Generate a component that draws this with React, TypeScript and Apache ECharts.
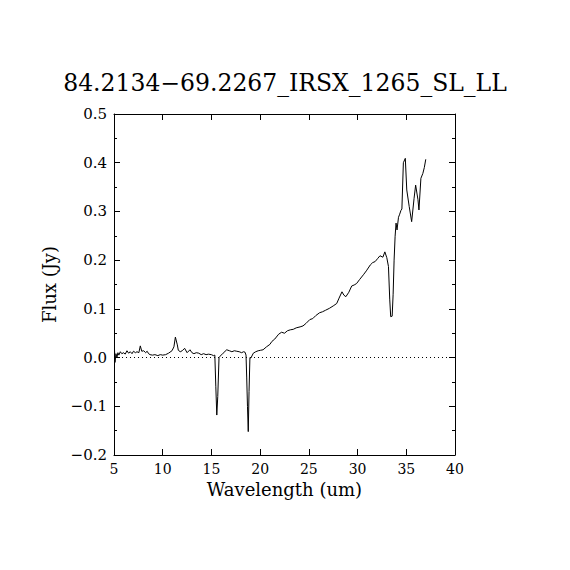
import React, { useEffect, useRef } from "react";
import * as echarts from "echarts";

const titleText = "84.2134\u221269.2267_IRSX_1265_SL_LL";
const xName = "Wavelength (um)";
const yName = "Flux (Jy)";
const xTicks = [5, 40, 5];
const yTicks = [-0.2, 0.5, 0.1];

const wavelength = [
  5.05, 5.1, 5.2, 5.3, 5.4, 5.5, 5.65, 5.8, 6.0, 6.15,
  6.33, 6.5, 6.67, 6.85, 7.0, 7.2, 7.36, 7.55, 7.7, 7.85,
  8.05, 8.25, 8.4, 8.55, 8.7, 8.95, 9.2, 9.5, 9.75, 10.0,
  10.3, 10.6, 10.95, 11.15, 11.3, 11.5, 11.6, 11.8, 12.0, 12.25,
  12.5, 12.8, 13.0, 13.2, 13.45, 13.7, 13.95, 14.2, 14.45, 14.7,
  15.0, 15.2, 15.35, 15.45, 15.55, 15.65, 15.78, 15.9, 16.2, 16.57,
  16.85, 17.1, 17.35, 17.6, 17.85, 18.1, 18.3, 18.45, 18.55, 18.62,
  18.7, 18.78, 18.86, 18.95, 19.05, 19.3, 19.55, 19.8, 20.05, 20.3,
  20.65, 21.0, 21.2, 21.5, 21.9, 22.2, 22.5, 22.8, 23.1, 23.4,
  23.7, 24.1, 24.4, 24.7, 25.1, 25.4, 25.7, 26.1, 26.4, 26.7,
  27.1, 27.5, 27.86, 28.1, 28.4, 28.6, 28.8, 29.1, 29.4, 29.65,
  29.9, 30.2, 30.6, 30.9, 31.3, 31.55, 31.8, 32.05, 32.3, 32.6,
  32.8, 33.0, 33.17, 33.3, 33.4, 33.55, 33.65, 33.75, 33.85, 33.95,
  34.05, 34.2, 34.3, 34.45, 34.55, 34.7, 34.9, 35.05, 35.3, 35.55,
  35.8, 35.96, 36.2, 36.3, 36.5, 36.7, 36.85, 37.0,
];

const flux = [
  0.018, -0.01, 0.008, 0.0, 0.01, 0.005, 0.012, 0.008, 0.01, 0.007,
  0.014, 0.009, 0.012, 0.008, 0.013, 0.01, 0.012, 0.01, 0.024, 0.013,
  0.014, 0.01, 0.013, 0.008, 0.006, 0.005, 0.006, 0.004, 0.006, 0.005,
  0.006, 0.009, 0.014, 0.022, 0.042, 0.026, 0.015, 0.012, 0.014, 0.019,
  0.01, 0.016, 0.01, 0.008, 0.01, 0.009, 0.006, 0.008, 0.006, 0.007,
  0.006, 0.004, 0.005, -0.06, -0.118, -0.08, 0.0, 0.003, 0.009, 0.016,
  0.014, 0.012, 0.014, 0.013, 0.012, 0.01, 0.012, 0.011, 0.005, -0.04,
  -0.1, -0.152, -0.07, 0.0, -0.001, 0.009, 0.012, 0.014, 0.015, 0.016,
  0.022, 0.027, 0.033, 0.038, 0.048, 0.052, 0.05, 0.055, 0.057, 0.058,
  0.061, 0.063, 0.065, 0.07, 0.078, 0.08, 0.086, 0.092, 0.094, 0.097,
  0.101, 0.106, 0.111, 0.122, 0.135, 0.128, 0.125, 0.134, 0.147, 0.149,
  0.152, 0.16, 0.17, 0.178, 0.19, 0.195, 0.197, 0.203, 0.209, 0.206,
  0.217, 0.205, 0.187, 0.12, 0.084, 0.085, 0.13, 0.2, 0.248, 0.276,
  0.262, 0.288, 0.293, 0.302, 0.305, 0.4, 0.409, 0.344, 0.31, 0.279,
  0.327, 0.354, 0.324, 0.303, 0.368, 0.378, 0.39, 0.407,
];

const FONT = "'DejaVu Serif', 'Liberation Serif', serif";

function fmtY(v: number): string {
  const s = Math.abs(v).toFixed(1);
  return v < -1e-9 ? "\u2212" + s : s;
}

export default function App() {
  const ref = useRef<HTMLDivElement>(null);
  useEffect(() => {
    if (!ref.current) return;
    const chart = echarts.init(ref.current, undefined, { renderer: "svg" });
    const n = Math.min(wavelength.length, flux.length);
    const data: number[][] = [];
    for (let i = 0; i < n; i++) data.push([wavelength[i], flux[i]]);

    const axisCommon = {
      axisLine: { show: true, onZero: false, lineStyle: { color: "#000", width: 1 } },
      splitLine: { show: false },
    };

    chart.setOption({
      animation: false,
      backgroundColor: "#fff",
      title: {
        text: titleText,
        left: "center",
        top: 66,
        textStyle: { fontFamily: FONT, fontSize: 23.5, fontWeight: "normal", color: "#000" },
      },
      grid: { left: 114, top: 114, width: 341, height: 341, containLabel: false },
      xAxis: [
        {
          type: "value",
          min: xTicks[0],
          max: xTicks[1],
          interval: xTicks[2],
          position: "bottom",
          name: xName,
          nameLocation: "middle",
          nameGap: 25,
          nameTextStyle: { fontFamily: FONT, fontSize: 18, color: "#000" },
          ...axisCommon,
          axisTick: { show: true, inside: true, length: 6, lineStyle: { color: "#000" } },
          axisLabel: { show: true, margin: 7, fontFamily: FONT, fontSize: 14, color: "#000" },
        },
        {
          type: "value",
          min: xTicks[0],
          max: xTicks[1],
          interval: xTicks[2],
          position: "top",
          ...axisCommon,
          axisTick: { show: true, inside: true, length: 6, lineStyle: { color: "#000" } },
          axisLabel: { show: false },
        },
      ],
      yAxis: [
        {
          type: "value",
          min: yTicks[0],
          max: yTicks[1],
          interval: yTicks[2],
          position: "left",
          name: yName,
          nameLocation: "middle",
          nameGap: 56,
          nameRotate: 90,
          nameTextStyle: { fontFamily: FONT, fontSize: 18, color: "#000" },
          ...axisCommon,
          axisTick: { show: true, inside: true, length: 6, lineStyle: { color: "#000" } },
          minorTick: { show: true, splitNumber: 2, length: 3, lineStyle: { color: "#000" } },
          axisLabel: { show: true, margin: 7, fontFamily: FONT, fontSize: 15, color: "#000", formatter: fmtY },
        },
        {
          type: "value",
          min: yTicks[0],
          max: yTicks[1],
          interval: yTicks[2],
          position: "right",
          ...axisCommon,
          axisTick: { show: true, inside: true, length: 6, lineStyle: { color: "#000" } },
          minorTick: { show: true, splitNumber: 2, length: 3, lineStyle: { color: "#000" } },
          axisLabel: { show: false },
        },
      ],
      series: [
        {
          type: "line",
          data,
          xAxisIndex: 0,
          yAxisIndex: 0,
          showSymbol: false,
          symbol: "none",
          lineStyle: { color: "#000", width: 1 },
          markLine: {
            silent: true,
            symbol: ["none", "none"],
            label: { show: false },
            lineStyle: { color: "#000", width: 1, type: [1, 3] },
            data: [{ yAxis: 0 }],
          },
        },
      ],
    });
    return () => chart.dispose();
  }, []);

  return (
    <div
      ref={ref}
      style={{ position: "fixed", left: 0, top: 0, width: 570, height: 570, background: "#fff" }}
    />
  );
}
